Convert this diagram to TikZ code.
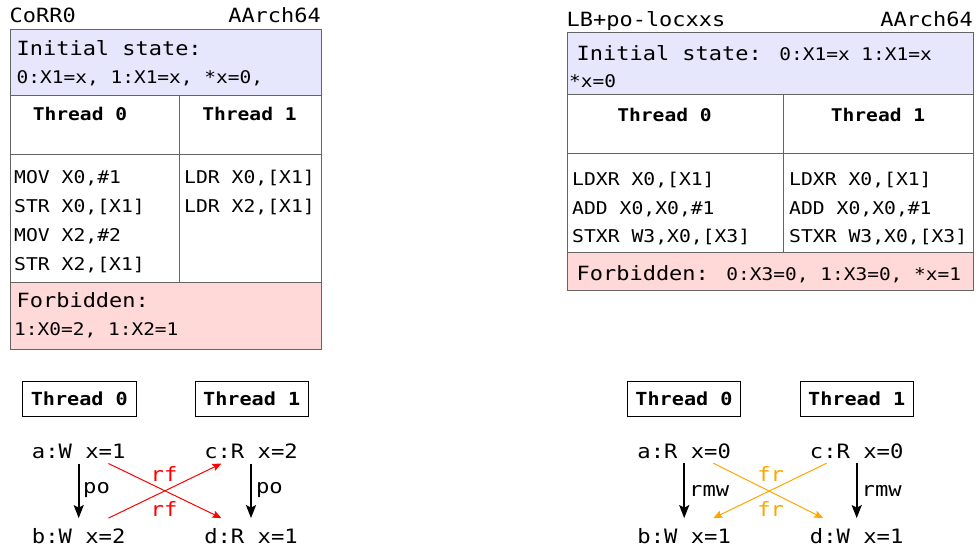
\documentclass[tikz,border=0pt]{standalone}
\usepackage{fontspec}
\setmainfont{DejaVu Sans Mono}[FakeStretch=1.12]
\usetikzlibrary{arrows.meta,calc}
\definecolor{initc}{RGB}{230,230,252}
\definecolor{forbc}{RGB}{255,216,216}
\definecolor{rulec}{RGB}{100,100,100}
\definecolor{frc}{RGB}{255,165,0}
\newcommand\fbig{\fontsize{19.6}{22}\selectfont}
\newcommand\fsmall{\fontsize{17.4}{20}\selectfont}
\newcommand\fcode{\fontsize{17.6}{20}\selectfont}
\newcommand\fhead{\bfseries\fontsize{17.5}{20}\selectfont}
\newcommand\fgraph{\fontsize{19.8}{22}\selectfont}
\newcommand\fgbold{\bfseries\fontsize{18}{20}\selectfont}
\tikzset{
  txt/.style={inner sep=0pt, anchor=base west},
  cell/.style={draw=rulec, line width=0.9pt, inner sep=0pt, anchor=north west},
  hd/.style={inner sep=0pt, anchor=base, font=\fhead},
  ev/.style={inner sep=0pt, anchor=base, text height=25pt, text depth=5pt, font=\fgraph},
  thbox/.style={draw=black, line width=0.8pt, minimum width=113.3pt, minimum height=34.3pt, inner sep=0pt, font=\fgbold},
  poarrow/.style={draw=black, line width=2pt, -{Stealth[length=13pt,width=10pt,inset=2.5pt]}},
  rfarrow/.style={draw=red, line width=1pt, -{Stealth[length=9pt,width=7.5pt,inset=1.5pt]}},
  frarrow/.style={draw=frc, line width=1pt, -{Stealth[length=9pt,width=7.5pt,inset=1.5pt]}},
  elbl/.style={inner sep=0pt, anchor=base west, font=\fgraph},
  clbl/.style={inner sep=0pt, anchor=base, font=\fgraph},
}
\begin{document}
\begin{tikzpicture}[x=1pt,y=-1pt]
\useasboundingbox (0,0) rectangle (976,550);

% ---------------- left table ----------------
\node[txt, font=\fbig] (ltitle) at (9.5,22) {CoRR0};
\node[inner sep=0pt, anchor=base east, font=\fbig] (larch) at (321,22) {AArch64};
\node[cell, fill=initc, minimum width=311pt, minimum height=66.5pt] (linit) at (10,28.5) {};
\node[cell, minimum width=169pt, minimum height=58.5pt] (lh0) at (10,95) {};
\node[cell, minimum width=142pt, minimum height=58.5pt] (lh1) at (179,95) {};
\node[cell, minimum width=169pt, minimum height=128pt] (lc0) at (10,153.5) {};
\node[cell, minimum width=142pt, minimum height=128pt] (lc1) at (179,153.5) {};
\node[cell, fill=forbc, minimum width=311pt, minimum height=67pt] (lforb) at (10,281.5) {};

\node[txt, font=\fbig] (linitt) at (16.5,55) {Initial state:};
\node[txt, font=\fsmall] (linitv) at (16.5,83) {0:X1=x, 1:X1=x, *x=0,};
\node[hd] (lth0) at (80,120) {Thread 0};
\node[hd] (lth1) at (249.5,120) {Thread 1};
\node[txt, font=\fcode] (lc0a) at (14,183.5) {MOV X0,\#1};
\node[txt, font=\fcode] (lc0b) at (14,212.5) {STR X0,[X1]};
\node[txt, font=\fcode] (lc0c) at (14,241.5) {MOV X2,\#2};
\node[txt, font=\fcode] (lc0d) at (14,270.5) {STR X2,[X1]};
\node[txt, font=\fcode] (lc1a) at (184,183.5) {LDR X0,[X1]};
\node[txt, font=\fcode] (lc1b) at (184,212.5) {LDR X2,[X1]};
\node[txt, font=\fbig] (lforbt) at (16.5,307.3) {Forbidden:};
\node[txt, font=\fsmall] (lforbv) at (14,335) {1:X0=2, 1:X2=1};

% ---------------- right table ----------------
\node[txt, font=\fbig] (rtitle) at (566.5,26) {LB+po-locxxs};
\node[inner sep=0pt, anchor=base east, font=\fbig] (rarch) at (973,26.5) {AArch64};
\node[cell, fill=initc, minimum width=405.7pt, minimum height=62pt] (rinit) at (567.3,32.3) {};
\node[cell, minimum width=216pt, minimum height=58.4pt] (rh0) at (567.3,94.3) {};
\node[cell, minimum width=189.7pt, minimum height=58.4pt] (rh1) at (783.3,94.3) {};
\node[cell, minimum width=216pt, minimum height=99pt] (rc0) at (567.3,152.7) {};
\node[cell, minimum width=189.7pt, minimum height=99pt] (rc1) at (783.3,152.7) {};
\node[cell, fill=forbc, minimum width=405.7pt, minimum height=38.3pt] (rforb) at (567.3,251.7) {};

\node[txt, font=\fbig] (rinitt) at (576.5,60) {Initial state: {\fsmall 0:X1=x 1:X1=x}};
\node[txt, font=\fsmall] (rinitv) at (569,87.3) {*x=0};
\node[hd] (rth0) at (664.5,121.7) {Thread 0};
\node[hd] (rth1) at (878,121.7) {Thread 1};
\node[txt, font=\fcode] (rc0a) at (572,185) {LDXR X0,[X1]};
\node[txt, font=\fcode] (rc0b) at (572,214) {ADD X0,X0,\#1};
\node[txt, font=\fcode] (rc0c) at (572,242.7) {STXR W3,X0,[X3]};
\node[txt, font=\fcode] (rc1a) at (789,185) {LDXR X0,[X1]};
\node[txt, font=\fcode] (rc1b) at (789,214) {ADD X0,X0,\#1};
\node[txt, font=\fcode] (rc1c) at (789,242.7) {STXR W3,X0,[X3]};
\node[txt, font=\fbig] (rforbt) at (576.5,280) {Forbidden: {\fsmall 0:X3=0, 1:X3=0, *x=1}};

% ---------------- left graph ----------------
\node[thbox] (lt0) at (79.3,398.8) {Thread 0};
\node[thbox] (lt1) at (251.7,398.8) {Thread 1};
\node[ev] (a0) at (78.7,458.3) {a:W x=1};
\node[ev] (b0) at (78.7,543.3) {b:W x=2};
\node[ev] (c0) at (251,458.3) {c:R x=2};
\node[ev] (d0) at (251,543.3) {d:R x=1};
\draw[poarrow] (a0.south) -- node[pos=0.5, elbl, xshift=3.5pt, yshift=-2.5pt] {po} (b0.north);
\draw[poarrow] (c0.south) -- node[pos=0.5, elbl, xshift=4pt, yshift=-2.5pt] {po} (d0.north);
\draw[rfarrow] ($(a0.south)!0.634!(a0.south east)$) -- ($(d0.north west)!0.37!(d0.north)$);
\draw[rfarrow] ($(b0.north)!0.634!(b0.north east)$) -- ($(c0.south west)!0.37!(c0.south)$);
\node[clbl, text=red] (rfl1) at (164,481.7) {rf};
\node[clbl, text=red] (rfl2) at (164,516.7) {rf};

% ---------------- right graph ----------------
\node[thbox] (rt0) at (684,398.8) {Thread 0};
\node[thbox] (rt1) at (856.7,398.8) {Thread 1};
\node[ev] (ra0) at (684.2,458) {a:R x=0};
\node[ev] (rb0) at (684.2,543.3) {b:W x=1};
\node[ev] (rc0n) at (856.7,458) {c:R x=0};
\node[ev] (rd0) at (856.7,543.3) {d:W x=1};
\draw[poarrow] (ra0.south) -- node[pos=0.5, elbl, xshift=4pt, yshift=-6pt] {rmw} (rb0.north);
\draw[poarrow] (rc0n.south) -- node[pos=0.5, elbl, xshift=4pt, yshift=-6pt] {rmw} (rd0.north);
\draw[frarrow] ($(ra0.south)!0.62!(ra0.south east)$) -- ($(rd0.north west)!0.285!(rd0.north)$);
\draw[frarrow] ($(rc0n.south west)!0.36!(rc0n.south)$) -- ($(rb0.north)!0.62!(rb0.north east)$);
\node[clbl, text=frc] (frl1) at (770.7,481.7) {fr};
\node[clbl, text=frc] (frl2) at (770.7,516.7) {fr};
\end{tikzpicture}
\end{document}
